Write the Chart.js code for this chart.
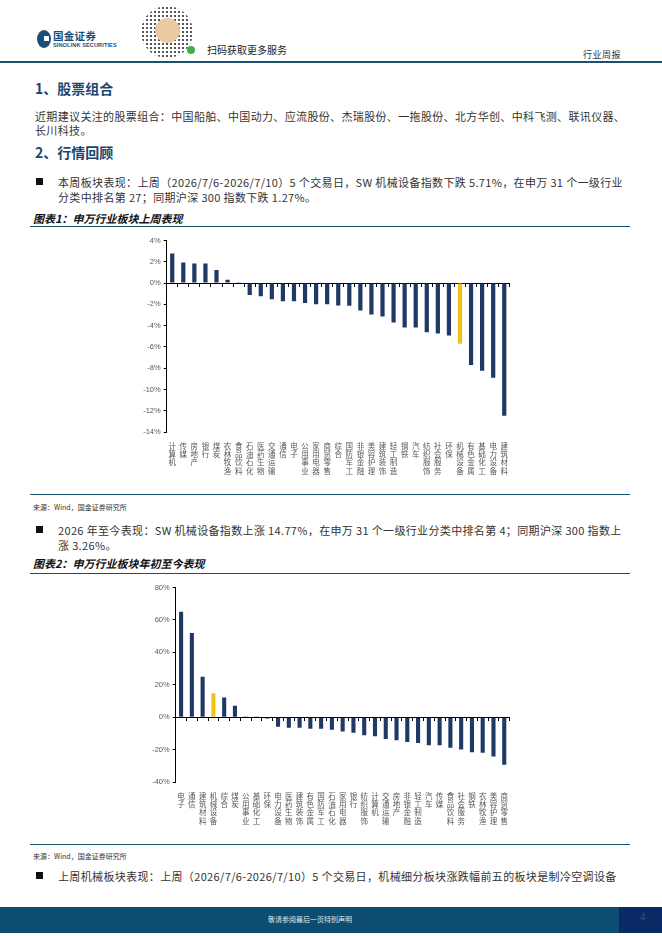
<!DOCTYPE html>
<html>
<head>
<meta charset="utf-8">
<script src="https://cdn.jsdelivr.net/npm/chart.js@4.4.1/dist/chart.umd.min.js"></script>
<style>
  html, body { margin: 0; padding: 0; background: #fff; }
  body { width: 662px; height: 936px; position: relative; overflow: hidden;
         font-family: "Noto Sans CJK SC", "Noto Sans", sans-serif; color: #333; }
  .abs { position: absolute; white-space: nowrap; }
  .h1 { font-size: 14px; font-weight: bold; color: #1a4770; }
  .txt { font-size: 11px; letter-spacing: 0.35px; color: #333; }
  .ttl { font-size: 11px; font-weight: bold; font-style: italic; color: #111; }
  .src { font-size: 7px; color: #333; }
  .rule { position: absolute; left: 30px; width: 600px; height: 1.3px; background: #1b4f6e; }
  .chart { position: absolute; }
</style>
</head>
<body>
<!-- header -->
<div class="abs" style="left:37px;top:30px;width:14px;height:18px;border-radius:50%;background:#1b4f7a;"></div>
<div class="abs" style="left:44px;top:36px;width:5px;height:5px;background:#fff;"></div>
<div class="abs" style="left:53px;top:28px;font-size:10.5px;font-weight:bold;color:#1b4f7a;letter-spacing:0.3px;">国金证券</div>
<div class="abs" style="left:53px;top:42px;font-size:5.6px;font-weight:bold;color:#1b4f7a;font-family:'Liberation Sans',sans-serif;letter-spacing:0.1px;">SINOLINK SECURITIES</div>
<div class="abs" style="left:141px;top:6px;width:52px;height:52px;border-radius:50%;
  background: radial-gradient(circle,#555 0 1px,transparent 1.4px) 0 0/4px 4px;"></div>
<div class="abs" style="left:155px;top:18px;width:25px;height:25px;border-radius:50%;background:#e9c9a0;"></div>
<div class="abs" style="left:187px;top:46px;width:8px;height:8px;border-radius:50%;background:#3cb34a;"></div>
<div class="abs" style="left:207px;top:42px;font-size:10px;color:#222;">扫码获取更多服务</div>
<div class="abs" style="left:583px;top:48px;font-size:9px;color:#333;letter-spacing:0.5px;">行业周报</div>
<div class="abs" style="left:0;top:61px;width:662px;height:1.5px;background:#1b4f6e;"></div>

<!-- section 1 -->
<div class="abs h1" style="left:35px;top:78px;">1、股票组合</div>
<div class="abs txt" style="left:35px;top:108px;">近期建议关注的股票组合：中国船舶、中国动力、应流股份、杰瑞股份、一拖股份、北方华创、中科飞测、联讯仪器、</div>
<div class="abs txt" style="left:35px;top:122px;">长川科技。</div>
<div class="abs h1" style="left:35px;top:142px;">2、行情回顾</div>

<div class="abs" style="left:36px;top:178px;width:7px;height:7px;background:#111;"></div>
<div class="abs txt" style="left:58px;top:174px;">本周板块表现：上周（2026/7/6-2026/7/10）5 个交易日，SW 机械设备指数下跌 5.71%，在申万 31 个一级行业</div>
<div class="abs txt" style="left:58px;top:189px;">分类中排名第 27；同期沪深 300 指数下跌 1.27%。</div>
<div class="abs ttl" style="left:33px;top:210px;">图表1：申万行业板块上周表现</div>
<div class="rule" style="top:226px;"></div>

<div class="chart" style="left:128px;top:233px;width:382px;height:244px;"><canvas id="chart1"></canvas></div>

<div class="rule" style="top:494px;"></div>
<div class="abs src" style="left:33px;top:502px;">来源：Wind，国金证券研究所</div>

<div class="abs" style="left:36px;top:526px;width:7px;height:7px;background:#111;"></div>
<div class="abs txt" style="left:58px;top:522px;">2026 年至今表现：SW 机械设备指数上涨 14.77%，在申万 31 个一级行业分类中排名第 4；同期沪深 300 指数上</div>
<div class="abs txt" style="left:58px;top:537px;">涨 3.26%。</div>
<div class="abs ttl" style="left:33px;top:555px;">图表2：申万行业板块年初至今表现</div>
<div class="rule" style="top:573px;"></div>

<div class="chart" style="left:130px;top:580px;width:380px;height:247px;"><canvas id="chart2"></canvas></div>

<div class="rule" style="top:844px;"></div>
<div class="abs src" style="left:33px;top:851px;">来源：Wind，国金证券研究所</div>

<div class="abs" style="left:36px;top:872px;width:7px;height:7px;background:#111;"></div>
<div class="abs txt" style="left:58px;top:868px;">上周机械板块表现：上周（2026/7/6-2026/7/10）5 个交易日，机械细分板块涨跌幅前五的板块是制冷空调设备</div>

<!-- footer -->
<div class="abs" style="left:0;top:907px;width:662px;height:26px;background:#0d4d72;"></div>
<div class="abs" style="left:619px;top:907px;width:43px;height:26px;background:#0a2a66;"></div>
<div class="abs" style="left:0;top:914px;width:620px;text-align:center;font-size:7px;color:#dfe8ef;">敬请参阅最后一页特别声明</div>
<div class="abs" style="left:640px;top:912px;font-size:10px;color:#3a4a6a;font-family:'Liberation Sans',sans-serif;">4</div>

<script>
const weekLabels = ["计算机", "传媒", "房地产", "银行", "煤炭", "农林牧渔", "食品饮料", "石油石化",
    "医药生物", "交通运输", "通信", "电子", "公用事业", "家用电器", "商贸零售", "综合",
    "国防军工", "非银金融", "美容护理", "建筑装饰", "轻工制造", "钢铁", "汽车", "纺织服饰",
    "社会服务", "环保", "机械设备", "有色金属", "基础化工", "电力设备", "建筑材料"];
const weekValues = [2.77, 1.94, 1.84, 1.84, 1.23, 0.32, 0.02, -1.13,
    -1.23, -1.52, -1.71, -1.71, -1.87, -2.0, -2.0, -2.1,
    -2.14, -2.58, -2.96, -3.14, -3.71, -4.18, -4.18, -4.62,
    -4.75, -4.94, -5.71, -7.7, -8.24, -8.9, -12.48];

const ytdLabels = ["电子", "通信", "建筑材料", "机械设备", "综合", "煤炭", "公用事业", "基础化工",
    "环保", "电力设备", "医药生物", "建筑装饰", "有色金属", "国防军工", "石油石化", "家用电器",
    "银行", "纺织服饰", "计算机", "交通运输", "房地产", "非银金融", "轻工制造", "汽车",
    "传媒", "食品饮料", "社会服务", "钢铁", "农林牧渔", "美容护理", "商贸零售"];
const ytdValues = [65.0, 52.0, 24.9, 14.77, 12.2, 7.1, 0.4, 0.1,
    -0.8, -5.9, -6.5, -6.5, -7.1, -7.1, -7.8, -8.8,
    -9.6, -11.1, -11.7, -13.4, -14.3, -15.3, -15.9, -17.4,
    -17.4, -18.9, -19.9, -21.6, -22.0, -24.3, -29.4];

const weekTicks = { min: -14, max: 4, step: 2 };
const ytdTicks = { min: -40, max: 80, step: 20 };

const navy = "#1f3864";
const gold = "#f2c21b";
const highlight = "机械设备";

function makeChart(id, labels, values, range, yWidth) {
    const ctx = document.getElementById(id).getContext("2d");
    return new Chart(ctx, {
        type: "bar",
        data: {
            labels: labels,
            datasets: [{
                data: values,
                backgroundColor: labels.map(l => l === highlight ? gold : navy),
                barPercentage: 0.38,
                categoryPercentage: 1.0
            }]
        },
        options: {
            responsive: true,
            maintainAspectRatio: false,
            animation: false,
            layout: { padding: 0 },
            plugins: { legend: { display: false }, tooltip: { enabled: false } },
            scales: {
                x: {
                    grid: { display: false },
                    border: { display: false },
                    ticks: {
                        autoSkip: false,
                        maxRotation: 0,
                        minRotation: 0,
                        padding: 2,
                        color: "#595959",
                        font: { size: 7.5, family: "Noto Sans CJK SC", lineHeight: 1.1 },
                        callback: function(value) {
                            return this.getLabelForValue(value).split("");
                        }
                    }
                },
                x0: {
                    type: "category",
                    position: { y: 0 },
                    grid: { drawOnChartArea: false, drawTicks: true, tickLength: 3, color: "#000" },
                    border: { display: true, color: "#000", width: 1 },
                    ticks: { display: false }
                },
                y: {
                    min: range.min,
                    max: range.max,
                    afterFit: function(scale) { scale.width = yWidth; },
                    grid: { drawOnChartArea: false, drawTicks: true, tickLength: 3, color: "#000" },
                    border: { display: true, color: "#000", width: 1 },
                    ticks: {
                        stepSize: range.step,
                        padding: 3,
                        color: "#595959",
                        font: { size: 7.5, family: "Liberation Sans" },
                        callback: function(value) { return value + "%"; }
                    }
                }
            }
        }
    });
}

makeChart("chart1", weekLabels, weekValues, weekTicks, 38.7);
makeChart("chart2", ytdLabels, ytdValues, ytdTicks, 45.7);
</script>
</body>
</html>
